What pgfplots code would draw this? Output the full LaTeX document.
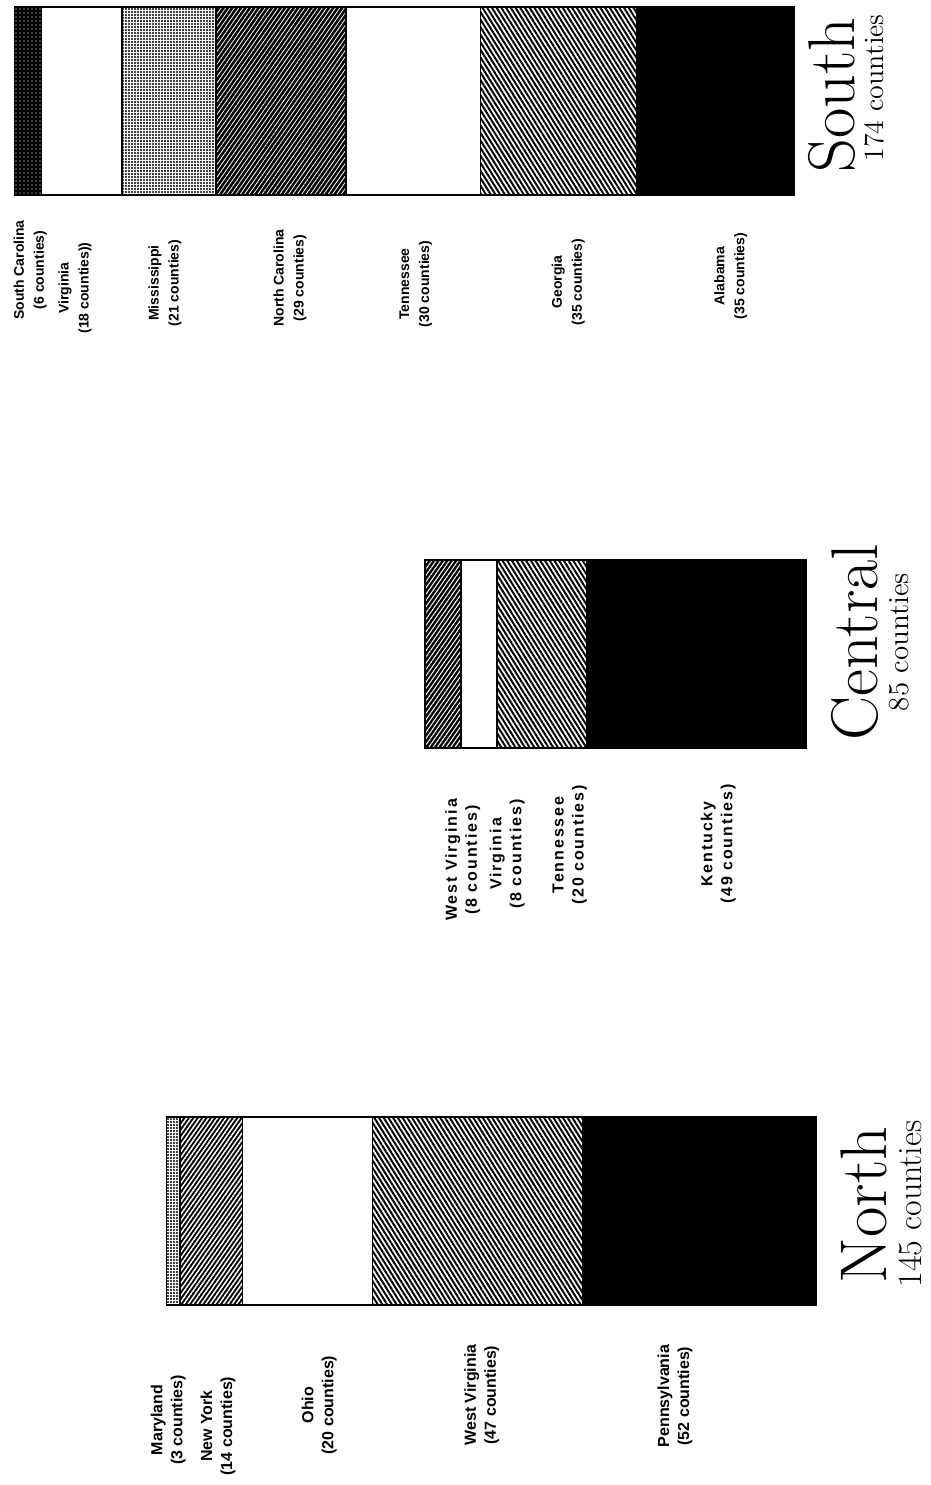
\documentclass[border=0pt]{standalone}
\usepackage{pgfplots}
\pgfplotsset{compat=1.18}
\usepackage{fontspec}
\usetikzlibrary{patterns.meta}
\newfontfamily\statefont{Liberation Sans}

\tikzset{
  seg/.style={draw=black, line width=0.8pt},
  solid black/.style={seg, fill=black},
  blank/.style={seg, fill=white},
  hatch/.style={seg, fill=white,
    postaction={pattern={Lines[angle=-58,distance=2pt,line width=1pt]}, pattern color=black}},
  darkhatch/.style={seg, fill=black,
    postaction={pattern={Lines[angle=55,distance=1.8pt,line width=#1]}, pattern color=white}},
  darkhatch/.default=0.5pt,
  dotted grid/.style={seg, fill=white,
    postaction={pattern={Dots[distance=1.5pt,radius=0.6pt]}, pattern color=black}},
  speckle/.style={seg, fill=black,
    postaction={pattern={Dots[distance=2pt,radius=0.35pt]}, pattern color=white}},
  lab/.style={rotate=90, align=center, inner sep=0pt,
    font=\statefont\bfseries\fontsize{8}{10}\selectfont},
  labwide/.style={lab, font=\statefont\bfseries\fontsize{8}{10}\selectfont\addfontfeatures{LetterSpace=12}},
  labnarrow/.style={lab, font=\statefont\bfseries\fontsize{7}{10}\selectfont},
  region/.style={rotate=90, anchor=base, inner sep=0pt,
    font=\fontsize{33}{36}\selectfont\addfontfeatures{LetterSpace=6}},
  regionsub/.style={rotate=90, anchor=base, inner sep=0pt, font=\fontsize{#1}{#1}\selectfont},
}

% one axis per region, all laid over the same 931x1485 px frame (1 px = 0.5pt)
\pgfplotsset{
  regionaxis/.style={
    at={(0,0)}, anchor=south west,
    width=465.5pt, height=742.5pt, scale only axis,
    hide axis, clip=false,
    xbar stacked, bar width=188,
    x dir=reverse, y dir=reverse,
    ymin=0, ymax=1485,
  },
}

\begin{document}
\begin{tikzpicture}

% ---- North: 145 counties
\begin{axis}[regionaxis, xmin=-25.67, xmax=182.14]
  \addplot[solid black] coordinates {(52,1211)};      % Pennsylvania
  \addplot[hatch] coordinates {(47,1211)};            % West Virginia
  \addplot[blank] coordinates {(29,1211)};            % Ohio
  \addplot[darkhatch=0.75pt] coordinates {(14,1211)}; % New York
  \addplot[dotted grid] coordinates {(3,1211)};       % Maryland

  \node[lab] at (axis cs:144.6,1420) {Maryland\\(3 counties)};
  \node[lab] at (axis cs:133.5,1426) {New York\\(14 counties)};
  \node[lab] at (axis cs:110.9,1405) {Ohio\\(20 counties)};
  \node[lab] at (axis cs:74.6,1395) {West Virginia\\(47 counties)};
  \node[lab] at (axis cs:31.5,1396) {Pennsylvania\\(52 counties)};
  \node[region] at (axis cs:-15.85,1205) {North};
  \node[regionsub=17] at (axis cs:-23.66,1204) {145 counties};
\end{axis}

% ---- Central: 85 counties
\begin{axis}[regionaxis, xmin=-27.90, xmax=179.91]
  \addplot[solid black] coordinates {(49,654)};  % Kentucky
  \addplot[hatch] coordinates {(20,654)};        % Tennessee
  \addplot[blank] coordinates {(8,654)};         % Virginia
  \addplot[darkhatch] coordinates {(8,654)};     % West Virginia

  \node[labwide] at (axis cs:76.6,860) {West Virginia\\(8 counties)};
  \node[labwide] at (axis cs:66.7,854) {Virginia\\(8 counties)};
  \node[labwide] at (axis cs:52.7,845) {Tennessee\\(20 counties)};
  \node[labwide] at (axis cs:19.6,844) {Kentucky\\(49 counties)};
  \node[region] at (axis cs:-16.07,642) {Central};
  \node[regionsub=14.5] at (axis cs:-22.77,642) {85 counties};
\end{axis}

% ---- South: 174 counties
\begin{axis}[regionaxis, xmin=-30.58, xmax=177.23]
  \addplot[solid black] coordinates {(35,101)};       % Alabama
  \addplot[hatch] coordinates {(35,101)};             % Georgia
  \addplot[blank] coordinates {(30,101)};             % Tennessee
  \addplot[darkhatch=0.4pt] coordinates {(29,101)};   % North Carolina
  \addplot[dotted grid] coordinates {(21,101)};       % Mississippi
  \addplot[blank] coordinates {(18,101)};             % Virginia
  \addplot[speckle] coordinates {(6,101)};            % South Carolina

  \node[labnarrow] at (axis cs:170.5,270) {South Carolina\\(6 counties)};
  \node[labnarrow] at (axis cs:160.5,288) {Virginia\\(18 counties))};
  \node[labnarrow] at (axis cs:140.4,283) {Mississippi\\(21 counties)};
  \node[labnarrow] at (axis cs:112.5,278) {North Carolina\\(29 counties)};
  \node[labnarrow] at (axis cs:84.4,284) {Tennessee\\(30 counties)};
  \node[labnarrow] at (axis cs:50.4,282) {Georgia\\(35 counties)};
  \node[labnarrow] at (axis cs:14.1,276) {Alabama\\(35 counties)};
  \node[region] at (axis cs:-13.6,95) {South};
  \node[regionsub=14] at (axis cs:-19.87,88) {174 counties};
\end{axis}

\pgfresetboundingbox
\useasboundingbox (0,0) rectangle (465.5pt,742.5pt);
\end{tikzpicture}
\end{document}
